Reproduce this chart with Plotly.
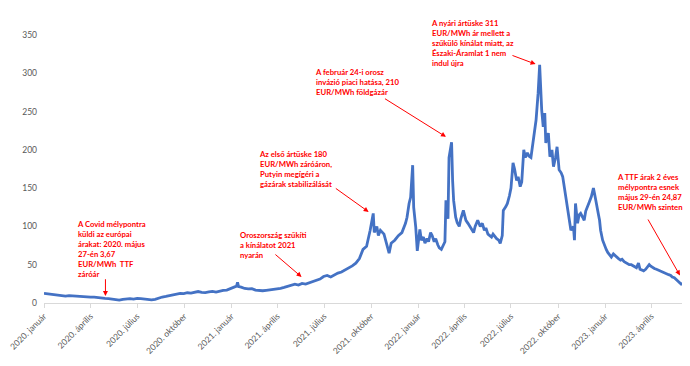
import plotly.graph_objects as go

# ---- data (TTF front-month, EUR/MWh) ----
dates = [
"2020-01-01","2020-01-08","2020-01-15","2020-01-22","2020-01-29","2020-02-05","2020-02-12","2020-02-19","2020-02-26",
"2020-03-04","2020-03-11","2020-03-18","2020-03-25","2020-04-01","2020-04-08","2020-04-15","2020-04-22","2020-04-29",
"2020-05-06","2020-05-13","2020-05-20","2020-05-27","2020-06-03","2020-06-10","2020-06-17","2020-06-24","2020-07-01",
"2020-07-08","2020-07-15","2020-07-22","2020-07-29","2020-08-05","2020-08-12","2020-08-19","2020-08-26","2020-09-02",
"2020-09-09","2020-09-16","2020-09-23","2020-09-30","2020-10-07","2020-10-14","2020-10-21","2020-10-28","2020-11-04",
"2020-11-11","2020-11-18","2020-11-25","2020-12-02","2020-12-09","2020-12-16","2020-12-23","2020-12-30",
"2021-01-06","2021-01-11","2021-01-13","2021-01-15","2021-01-20","2021-01-27","2021-02-03","2021-02-10","2021-02-17",
"2021-02-24","2021-03-03","2021-03-10","2021-03-17","2021-03-24","2021-03-31","2021-04-07","2021-04-14","2021-04-21",
"2021-04-28","2021-05-05","2021-05-12","2021-05-19","2021-05-26","2021-06-02","2021-06-09","2021-06-16","2021-06-23",
"2021-06-30","2021-07-07","2021-07-14","2021-07-21","2021-07-28","2021-08-04","2021-08-11","2021-08-18","2021-08-25",
"2021-09-01","2021-09-08","2021-09-15","2021-09-22","2021-09-29","2021-10-05","2021-10-07","2021-10-12","2021-10-15",
"2021-10-19","2021-10-26","2021-11-02","2021-11-05","2021-11-09","2021-11-16","2021-11-23","2021-11-30","2021-12-07",
"2021-12-10","2021-12-14","2021-12-17","2021-12-21","2021-12-23","2021-12-27","2021-12-30",
"2022-01-04","2022-01-07","2022-01-11","2022-01-14","2022-01-18","2022-01-21","2022-01-25","2022-01-28","2022-02-01",
"2022-02-04","2022-02-08","2022-02-11","2022-02-15","2022-02-18","2022-02-22","2022-02-24","2022-02-28","2022-03-02",
"2022-03-04","2022-03-07","2022-03-09","2022-03-11","2022-03-15","2022-03-18","2022-03-22","2022-03-25","2022-03-30",
"2022-04-04","2022-04-08","2022-04-13","2022-04-19","2022-04-22","2022-04-27","2022-05-02","2022-05-06","2022-05-10",
"2022-05-13","2022-05-17","2022-05-20","2022-05-24","2022-05-27","2022-05-31","2022-06-03","2022-06-07","2022-06-10",
"2022-06-14","2022-06-16","2022-06-21","2022-06-24","2022-06-28","2022-07-01","2022-07-05","2022-07-08","2022-07-12",
"2022-07-15","2022-07-19","2022-07-22","2022-07-26","2022-07-29","2022-08-02","2022-08-05","2022-08-09","2022-08-12",
"2022-08-16","2022-08-19","2022-08-23","2022-08-26","2022-08-30","2022-09-02","2022-09-05","2022-09-07","2022-09-12",
"2022-09-15","2022-09-19","2022-09-22","2022-09-26","2022-09-29","2022-10-03","2022-10-07","2022-10-10","2022-10-12",
"2022-10-17","2022-10-20","2022-10-24","2022-10-26","2022-10-31","2022-11-02","2022-11-04","2022-11-08","2022-11-11",
"2022-11-14","2022-11-18","2022-11-21","2022-11-24","2022-11-28","2022-12-01","2022-12-05","2022-12-09","2022-12-12",
"2022-12-14","2022-12-19","2022-12-21","2022-12-23","2022-12-27","2022-12-30",
"2023-01-03","2023-01-06","2023-01-10","2023-01-13","2023-01-17","2023-01-20","2023-01-24","2023-01-27","2023-01-31",
"2023-02-03","2023-02-07","2023-02-10","2023-02-14","2023-02-17","2023-02-21","2023-02-24","2023-02-28","2023-03-03",
"2023-03-07","2023-03-10","2023-03-14","2023-03-17","2023-03-21","2023-03-24","2023-03-28","2023-03-31","2023-04-04",
"2023-04-07","2023-04-11","2023-04-14","2023-04-18","2023-04-21","2023-04-25","2023-04-28","2023-05-02","2023-05-05",
"2023-05-09","2023-05-12","2023-05-16","2023-05-19","2023-05-23","2023-05-26","2023-05-29","2023-05-31",
]
prices = [
12.6,12.0,11.2,10.8,10.0,9.4,9.0,9.6,9.2,
9.4,8.8,8.6,8.0,7.6,7.8,7.0,6.6,6.0,
5.8,5.2,4.6,3.7,4.8,5.4,5.6,5.2,6.0,
5.6,5.0,4.4,4.2,4.8,6.5,7.8,8.6,9.8,
10.5,11.8,12.6,12.2,13.4,13.0,14.2,15.0,14.0,
13.6,14.4,15.2,14.2,15.6,16.4,16.8,18.6,
19.8,22.0,27.0,21.5,20.8,19.0,18.4,18.8,16.8,
16.2,16.0,16.6,17.2,17.6,18.4,19.2,20.4,21.6,
22.8,24.6,23.4,25.6,24.8,26.4,27.8,29.0,31.2,
34.6,36.0,34.0,37.0,39.0,40.5,43.0,46.0,48.5,
52.0,58.0,70.0,74.0,95.0,117.0,92.0,100.0,88.0,
95.0,90.0,72.0,65.0,78.0,82.0,88.0,92.0,104.0,
112.0,130.0,138.0,180.0,125.0,99.0,68.0,
96.0,82.0,86.0,78.0,84.0,80.0,92.0,88.0,80.0,
84.0,76.0,72.0,70.0,74.0,80.0,134.0,110.0,190.0,
200.0,210.0,160.0,134.0,112.0,105.0,100.0,110.0,121.0,
108.0,104.0,98.0,92.0,100.0,108.0,100.0,104.0,95.0,
98.0,90.0,88.0,86.0,90.0,86.0,84.0,82.0,78.0,
88.0,121.0,126.0,130.0,140.0,150.0,183.0,175.0,160.0,
165.0,152.0,158.0,200.0,190.0,196.0,192.0,190.0,205.0,
222.0,239.0,274.0,311.0,252.0,230.0,248.0,209.0,222.0,
191.0,200.0,178.0,190.0,204.0,174.0,170.0,165.0,156.0,
134.0,120.0,104.0,95.0,100.0,82.0,130.0,104.0,115.0,
117.0,112.0,108.0,120.0,126.0,132.0,139.0,150.0,140.0,
134.0,115.0,108.0,95.0,82.0,76.0,
70.0,66.0,62.0,60.0,64.0,62.0,60.0,58.0,56.0,
57.0,54.0,53.0,52.0,50.0,50.0,49.0,47.0,46.0,
52.0,44.0,43.0,42.0,44.0,46.0,50.0,48.0,46.0,
45.0,44.0,43.0,42.0,41.0,40.0,39.0,38.0,37.0,
36.0,34.0,33.0,31.0,28.0,27.0,24.9,26.5,
]

tick_dates = ["2020-01-01","2020-04-01","2020-07-01","2020-10-01","2021-01-01","2021-04-01","2021-07-01",
              "2021-10-01","2022-01-01","2022-04-01","2022-07-01","2022-10-01","2023-01-01","2023-04-01"]
tick_labels = ["2020. január","2020. április","2020. július","2020. október","2021. január","2021. április",
               "2021. július","2021. október","2022. január","2022. április","2022. július","2022. október",
               "2023. január","2023. április"]
y_ticks = [0, 50, 100, 150, 200, 250, 300, 350]
Y_MAX = 350

# annotation texts: (text, x, value level of the text's top-left corner)
notes = [
    ("A Covid mélypontra<br>küldi az európai<br>árakat: 2020. május<br>27-én 3,67<br>EUR/MWh  TTF<br>záróár", "2020-03-03", 111),
    ("Oroszország szűkíti<br>a kínálatot 2021<br>nyarán", "2021-01-16", 97),
    ("Az első ártüske 180<br>EUR/MWh záróáron,<br>Putyin megígéri a<br>gázárak stabilizálását", "2021-02-22", 202),
    ("A február 24-i orosz<br>invázió piaci hatása, 210<br>EUR/MWh földgázár", "2021-06-11", 309),
    ("A nyári ártüske 311<br>EUR/MWh ár mellett a<br>szűkülő kínálat miatt, az<br>Északi-Áramlat 1 nem<br>indul újra", "2022-01-24", 373),
    ("A TTF árak 2 éves<br>mélypontra esnek<br>május 29-én 24,87<br>EUR/MWh szinten", "2023-01-23", 172),
]
# arrows: (head x, head y, tail x, tail y)
arrows = [
    ("2020-04-30", 9, "2020-04-30", 33),
    ("2021-05-18", 34, "2021-03-25", 65),
    ("2021-09-26", 119, "2021-07-21", 151),
    ("2022-02-24", 217, "2021-10-25", 268),
    ("2022-08-18", 312, "2022-07-01", 324),
    ("2023-05-27", 36, "2023-03-24", 111),
]

RED = "#FF0000"
fig = go.Figure()
fig.add_trace(go.Scatter(x=dates, y=prices, mode="lines",
                         line=dict(color="#4472C4", width=2.8), hoverinfo="skip"))

for txt, x, y in notes:
    fig.add_annotation(x=x, y=y / Y_MAX, xref="x", yref="paper", text=txt, showarrow=False,
                       xanchor="left", yanchor="top", align="left",
                       font=dict(family="Lato", size=7.7, color=RED, weight="bold"), borderpad=0)
for hx, hy, tx, ty in arrows:
    fig.add_annotation(x=hx, y=hy, ax=tx, ay=ty, xref="x", yref="y", axref="x", ayref="y",
                       text="", showarrow=True, arrowhead=2, arrowsize=1, arrowwidth=1,
                       arrowcolor=RED, standoff=0, startstandoff=0)

fig.update_layout(
    width=690, height=366, autosize=False,
    margin=dict(l=41, r=8, t=35, b=63),
    paper_bgcolor="white", plot_bgcolor="white",
    showlegend=False,
    font=dict(family="Lato", color="#595959", size=8),
)
fig.update_xaxes(range=["2020-01-01", "2023-05-31"], tickvals=tick_dates, ticktext=tick_labels,
                 tickangle=-45, showgrid=False, zeroline=False, showline=True, linecolor="#D9D9D9",
                 linewidth=1, ticks="outside", ticklen=4, tickcolor="#D9D9D9",
                 tickfont=dict(family="Lato", size=8.5, color="#595959"))
fig.update_yaxes(range=[0, Y_MAX], tickvals=y_ticks, showgrid=False, zeroline=False, showline=False,
                 ticks="", ticklabelstandoff=6,
                 tickfont=dict(family="Lato", size=8.5, color="#595959"))

fig.write_html("out.html", config={"displayModeBar": False},
               post_script="document.body.style.margin='0';")
